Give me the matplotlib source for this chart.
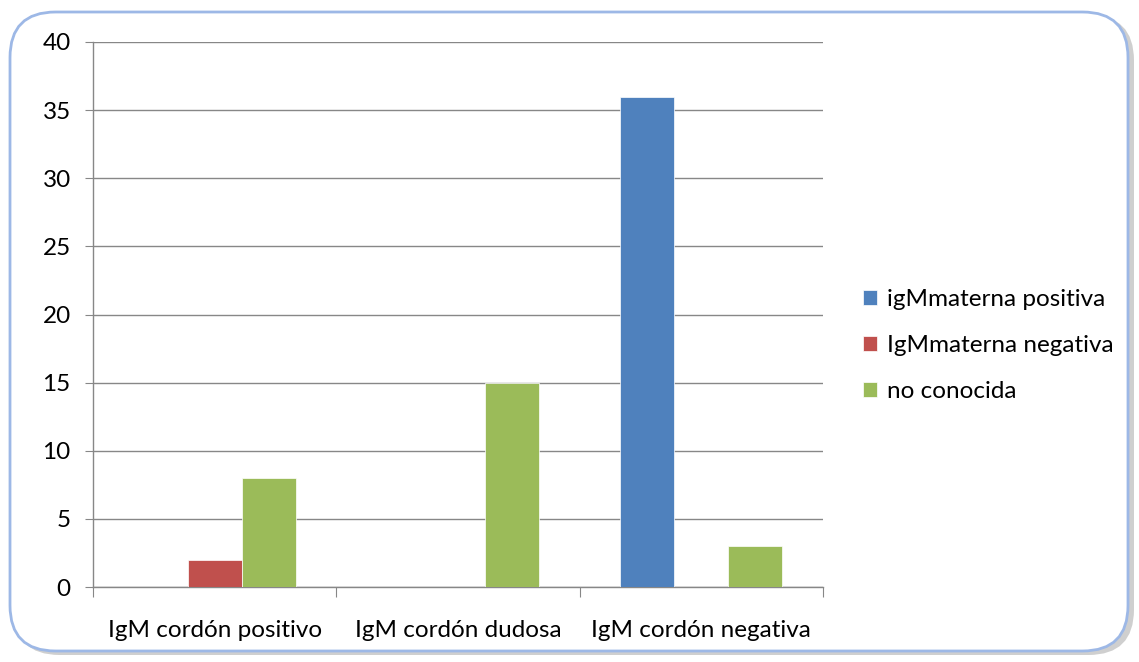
import matplotlib
matplotlib.use("Agg")
import matplotlib.pyplot as plt
from matplotlib.patches import FancyBboxPatch
import numpy as np

categories = ["IgM cordón positivo", "IgM cordón dudosa", "IgM cordón negativa"]
series_names = ["igMmaterna positiva", "IgMmaterna negativa", "no conocida"]
igm_pos = [0, 0, 36]
igm_neg = [2, 0, 0]
no_conocida = [8, 15, 3]
colors = ["#4F81BD", "#C0504D", "#9BBB59"]
yticks = [0, 5, 10, 15, 20, 25, 30, 35, 40]

plt.rcParams['font.family'] = ['Lato', 'DejaVu Sans']

fig = plt.figure(figsize=(11.39, 6.62), dpi=100)
fig.patch.set_facecolor("white")

# frame with shadow
shadow = FancyBboxPatch((14/1139, 7/662), 1120/1139, 640/662,
                        boxstyle="round,pad=0,rounding_size=0.04",
                        transform=fig.transFigure, facecolor="#cfcfcf",
                        edgecolor="none", zorder=0, mutation_aspect=1139/662)
fig.patches.append(shadow)
frame = FancyBboxPatch((10/1139, 11/662), 1118/1139, 639/662,
                       boxstyle="round,pad=0,rounding_size=0.04",
                       transform=fig.transFigure, facecolor="white",
                       edgecolor="#9db8e6", linewidth=2, zorder=1,
                       mutation_aspect=1139/662)
fig.patches.append(frame)

ax = fig.add_axes([93/1139, 1 - 587/662, 730/1139, 545/662])
ax.set_facecolor("none")
ax.set_zorder(2)

x = np.arange(len(categories))
w = 0.222
for i, (vals, name) in enumerate(zip([igm_pos, igm_neg, no_conocida], series_names)):
    ax.bar(x + (i - 1) * w, vals, width=w, color=colors[i], label=name,
           zorder=3, edgecolor="white", linewidth=0.5)

ax.set_xlim(-0.5, 2.5)
ax.set_ylim(0, 40)
ax.set_yticks(yticks)
ax.set_yticklabels([str(v) for v in yticks], fontsize=17.5)
ax.yaxis.grid(True, color="#878787", linewidth=1, zorder=0)
ax.set_axisbelow(True)

ax.set_xticks([-0.5, 0.5, 1.5, 2.5])
ax.set_xticklabels([])
ax.set_xticks(x, minor=True)
ax.set_xticklabels(categories, minor=True, fontsize=17.5)
ax.tick_params(axis='x', which='minor', length=0, pad=24)
ax.tick_params(axis='x', which='major', length=7, color="#878787")
ax.tick_params(axis='y', length=6, color="#878787", pad=10)

for s in ["top", "right"]:
    ax.spines[s].set_visible(False)
for s in ["left", "bottom"]:
    ax.spines[s].set_color("#878787")
    ax.spines[s].set_linewidth(1)

leg = fig.legend(loc="upper left", bbox_to_anchor=(841/1139, 1 - 267/662),
                 frameon=False, fontsize=17.5, handlelength=0.6, handleheight=0.6,
                 handletextpad=0.4, labelspacing=1.03)

fig.savefig("out.png", dpi=100, facecolor="white")
